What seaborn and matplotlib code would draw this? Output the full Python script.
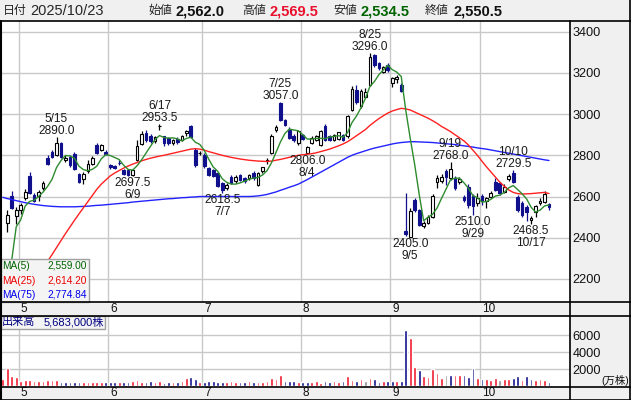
import numpy as np
import pandas as pd
import matplotlib
matplotlib.use("Agg")
import matplotlib.pyplot as plt
from matplotlib.lines import Line2D
from matplotlib.patches import Rectangle
import seaborn as sns

# ---- daily data (price in yen, volume in 万株) ----
dates = ["4/24", "4/25", "4/28", "4/30",
         "5/1", "5/2", "5/7", "5/8", "5/9", "5/12", "5/13", "5/14", "5/15", "5/16",
         "5/19", "5/20", "5/21", "5/22", "5/23", "5/26", "5/27", "5/28", "5/29", "5/30",
         "6/2", "6/3", "6/4", "6/5", "6/6", "6/9", "6/10", "6/11", "6/12", "6/13",
         "6/16", "6/17", "6/18", "6/19", "6/20", "6/23", "6/24", "6/25", "6/26", "6/27", "6/30",
         "7/1", "7/2", "7/3", "7/4", "7/7", "7/8", "7/9", "7/10", "7/11", "7/14", "7/15",
         "7/16", "7/17", "7/18", "7/22", "7/23", "7/24", "7/25", "7/28", "7/29", "7/30", "7/31",
         "8/1", "8/4", "8/5", "8/6", "8/7", "8/8", "8/12", "8/13", "8/14", "8/15", "8/18",
         "8/19", "8/20", "8/21", "8/22", "8/25", "8/26", "8/27", "8/28", "8/29",
         "9/1", "9/2", "9/3", "9/4", "9/5", "9/8", "9/9", "9/10", "9/11", "9/12", "9/16",
         "9/17", "9/18", "9/19", "9/22", "9/24", "9/25", "9/26", "9/29", "9/30",
         "10/1", "10/2", "10/3", "10/6", "10/7", "10/8", "10/9", "10/10", "10/14", "10/15",
         "10/16", "10/17", "10/20", "10/21", "10/22", "10/23"]

opens = [2270, 2471, 2601, 2504, 2533, 2594, 2700, 2609, 2601, 2643, 2787, 2816, 2800, 2860,
         2779, 2792, 2808, 2711, 2687, 2722, 2760, 2852, 2828, 2816,
         2751, 2746, 2763, 2730, 2727, 2703, 2776, 2857, 2909, 2892,
         2868, 2940, 2892, 2884, 2859, 2879, 2876, 2906, 2941, 2827, 2811,
         2803, 2738, 2729, 2713, 2664, 2640, 2697, 2673, 2705, 2689, 2689,
         2713, 2657, 2722, 2770, 2811, 2921, 3053, 2972, 2924, 2892, 2859,
         2900, 2811, 2859, 2875, 2851, 2943, 2892, 2875, 2879, 2900, 2895,
         3021, 3115, 3037, 3083, 3142, 3287, 3247, 3206, 3239,
         3153, 3169, 3142, 2434, 2405, 2583, 2534, 2457, 2473, 2502, 2672,
         2677, 2725, 2688, 2688, 2672, 2600, 2648, 2602, 2567,
         2602, 2580, 2599, 2672, 2664, 2623, 2683, 2713, 2600, 2567,
         2550, 2486, 2526, 2567, 2575, 2562]
highs = [2290, 2533, 2625, 2549, 2568, 2635, 2719, 2617, 2630, 2675, 2800, 2828, 2890, 2865,
         2800, 2800, 2816, 2714, 2719, 2776, 2795, 2860, 2857, 2828,
         2760, 2752, 2776, 2735, 2730, 2735, 2873, 2918, 2921, 2905,
         2895, 2953.5, 2895, 2890, 2880, 2890, 2898, 2925, 2949, 2835, 2820,
         2810, 2745, 2735, 2716, 2670, 2665, 2702, 2702, 2710, 2695, 2710,
         2722, 2718, 2745, 2785, 2905, 2945, 3057, 2978, 2935, 2905, 2920,
         2905, 2845, 2895, 2898, 2925, 2950, 2900, 2905, 2915, 2905, 2995,
         3135, 3140, 3120, 3125, 3296, 3290, 3252, 3235, 3250,
         3180, 3190, 3150, 2615, 2542, 2595, 2540, 2480, 2510, 2610, 2705,
         2710, 2735, 2768, 2700, 2695, 2605, 2660, 2610, 2615,
         2610, 2600, 2625, 2690, 2670, 2660, 2710, 2729.5, 2605, 2580,
         2560, 2505, 2560, 2595, 2625, 2569.5]
lows = [2250, 2427, 2541, 2468, 2517, 2585, 2614, 2573, 2578, 2633, 2755, 2787, 2795, 2787,
        2768, 2743, 2727, 2666, 2662, 2714, 2751, 2808, 2820, 2800,
        2735, 2735, 2751, 2705, 2700, 2697.5, 2772, 2849, 2865, 2860,
        2860, 2925, 2845, 2850, 2850, 2855, 2870, 2895, 2885, 2745, 2800,
        2740, 2700, 2695, 2645, 2618.5, 2630, 2660, 2665, 2675, 2665, 2680,
        2680, 2650, 2715, 2760, 2805, 2915, 2965, 2940, 2880, 2865, 2850,
        2875, 2806, 2855, 2870, 2845, 2870, 2870, 2870, 2875, 2870, 2885,
        3015, 3050, 3030, 3080, 3135, 3230, 3215, 3200, 3205,
        3130, 3150, 3105, 2410, 2405, 2525, 2455, 2445, 2465, 2495, 2640,
        2665, 2655, 2680, 2630, 2660, 2575, 2545, 2510, 2555,
        2560, 2545, 2595, 2625, 2605, 2615, 2675, 2665, 2525, 2500,
        2480, 2468.5, 2500, 2560, 2570, 2534.5]
closes = [2285, 2508, 2546, 2533, 2560, 2622, 2619, 2578, 2622, 2666, 2760, 2792, 2862, 2792,
          2789, 2751, 2735, 2670, 2708, 2760, 2787, 2811, 2849, 2805,
          2743, 2738, 2762, 2711, 2703, 2727, 2844, 2905, 2876, 2868,
          2889, 2941, 2859, 2859, 2876, 2863, 2892, 2919, 2889, 2754, 2811,
          2746, 2705, 2700, 2651, 2632, 2656, 2664, 2697, 2681, 2673, 2705,
          2690, 2713, 2741, 2775, 2896, 2937, 2972, 2948, 2883, 2875, 2916,
          2880, 2840, 2883, 2892, 2916, 2875, 2875, 2900, 2911, 2875, 2989,
          3121, 3057, 3110, 3105, 3279, 3239, 3222, 3228, 3215,
          3174, 3180, 3114, 2416, 2531, 2534, 2461, 2470, 2502, 2602, 2688,
          2693, 2693, 2732, 2640, 2685, 2583, 2560, 2554, 2591,
          2580, 2591, 2615, 2632, 2615, 2648, 2700, 2672, 2534, 2510,
          2526, 2498, 2554, 2580.5, 2612, 2550.5]
volumes = [900, 2230, 1290, 1090, 700, 750, 720, 700, 650, 700, 730, 720, 760, 520,
           520, 500, 520, 520, 480, 500, 480, 500, 500, 520,
           520, 500, 500, 520, 520, 600, 780, 520, 520, 600,
           550, 700, 450, 500, 500, 520, 700, 1000, 1100, 900, 520,
           520, 700, 600, 520, 520, 520, 600, 520, 520, 520, 600,
           520, 520, 550, 600, 1000, 900, 1400, 700, 600, 600, 520,
           520, 520, 500, 600, 450, 600, 550, 700, 520, 600, 1200,
           800, 600, 900, 600, 1000, 850, 520,
           650, 650, 650, 600, 650, 6650, 5670, 2330, 1940, 1235, 1080, 2060, 1620,
           1040, 1350, 1350, 1350, 1350, 1350, 1080, 2210, 1040,
           880, 880, 765, 1040, 765, 880, 880, 1040, 1235, 765,
           1235, 880, 765, 880, 765, 568.3]
# bar colour per day: r = up from previous close, b = down, g = unchanged
vol_colors = ("rrrrrrrrrrrrr"
              "bbbbbrrrrrbbbrbbrrrbbrrbbrbrrbbrbbbbbrrrbbrbrrrrrrbbbrbbrrrbbrrbrrbrgrbb"
              "rbbrbbrrbrrrrrgbrrbbbrbrrrgrrbbrbbrrrb")

# moving averages (yen)
ma5_lead = [np.nan, 2150, 2292, 2453]
ma25 = [np.nan] * 8 + [
    2220, 2255, 2285, 2318, 2352, 2386, 2420, 2452, 2484, 2515, 2545, 2575, 2605, 2635, 2660, 2680,
    2700, 2714, 2726, 2738, 2748, 2757, 2765, 2773, 2780, 2786, 2791, 2796, 2800, 2805, 2810,
    2815, 2820, 2825, 2830, 2832, 2830, 2825, 2818, 2812, 2806, 2800, 2795, 2790, 2786, 2782,
    2779, 2776, 2774, 2772, 2771, 2770, 2772, 2776, 2780, 2785, 2790, 2795, 2800, 2803, 2805,
    2808, 2812, 2818, 2824, 2830, 2838, 2846, 2855, 2866, 2880, 2895, 2910, 2925, 2945, 2962,
    2978, 2992, 3005, 3015, 3022, 3028, 3025, 3020, 3010, 3000, 2990, 2980, 2968, 2955, 2940,
    2928, 2915, 2900, 2885, 2870, 2850, 2825, 2800, 2772, 2745, 2720, 2695, 2670, 2650, 2632,
    2620, 2614, 2612, 2613, 2614, 2616, 2618, 2620, 2614.20]
ma75 = [2596, 2590, 2585, 2580, 2575, 2570, 2566, 2562, 2559, 2556, 2554, 2552, 2551, 2550,
        2550, 2550, 2550, 2551, 2552, 2553, 2555, 2557, 2558, 2560, 2562, 2564, 2566, 2568,
        2570, 2573, 2575, 2577, 2579, 2581, 2583, 2585, 2587, 2589, 2590, 2592, 2594, 2595,
        2597, 2598, 2600, 2600, 2600, 2600, 2600, 2600, 2600, 2600, 2600, 2600, 2600, 2600,
        2601, 2603, 2606, 2610, 2616, 2622, 2630, 2637, 2645, 2652, 2660, 2671, 2682, 2694,
        2706, 2718, 2730, 2742, 2754, 2766, 2778, 2790, 2800, 2808, 2815, 2822, 2829, 2835,
        2840, 2845, 2850, 2855, 2859, 2862, 2864, 2866, 2866, 2865, 2864, 2863, 2862, 2860,
        2858, 2856, 2854, 2852, 2849, 2846, 2843, 2840, 2836, 2833, 2830, 2826, 2822, 2818,
        2814, 2810, 2806, 2802, 2798, 2794, 2790, 2786, 2782, 2778, 2774.84]

# labelled extremes: (date, kind)
marks = [("5/15", "high"), ("6/17", "high"), ("6/9", "low"), ("7/7", "low"),
         ("7/25", "high"), ("8/4", "low"), ("8/25", "high"), ("9/5", "low"),
         ("9/19", "high"), ("9/29", "low"), ("10/10", "high"), ("10/17", "low")]

header_date = "2025/10/23"

# ---- frame ----
sns.set_style("white")
plt.rcParams["font.family"] = ["Liberation Sans", "Noto Sans CJK JP"]

W, H = 631, 400
fig = plt.figure(figsize=(W / 100, H / 100), dpi=100)
fig.patch.set_facecolor("#f0f0f0")


def rect(x0, y0, x1, y1):
    return [x0 / W, 1 - y1 / H, (x1 - x0) / W, (y1 - y0) / H]


def fx(px):
    return px / W


def fy(py):
    return 1 - py / H


n = len(dates)
idx = np.arange(n)
o = np.array(opens, float)
h = np.array(highs, float)
lo = np.array(lows, float)
c = np.array(closes, float)

X_LEFT, X_RIGHT = -0.40, 126.69
ax = fig.add_axes(rect(1, 21, 570, 302))
axv = fig.add_axes(rect(1, 316, 570, 387))
for a in (ax, axv):
    a.set_facecolor("white")
    a.set_xlim(X_LEFT, X_RIGHT)
    for s in a.spines.values():
        s.set_visible(False)
    a.tick_params(axis="x", length=0, labelbottom=False)
ax.set_ylim(2087.9, 3451.9)
axv.set_ylim(-60, 8294)

# month boundaries
months = [d.split("/")[0] for d in dates]
month_starts = [(i, months[i]) for i in range(1, n) if months[i] != months[i - 1]]
grid_c = "#c8c8c8"
for a in (ax, axv):
    for i, _ in month_starts:
        a.axvline(i - 0.45, color=grid_c, lw=1.0, zorder=0)
for p in range(2200, 3401, 200):
    ax.axhline(p, color=grid_c, lw=1.0, zorder=0)
for v in (2000, 4000, 6000):
    axv.axhline(v, color=grid_c, lw=1.0, zorder=0)

# price axis on the right
ax.yaxis.tick_right()
ax.set_yticks(range(2200, 3401, 200))
ax.tick_params(axis="y", length=0, pad=2, labelsize=9.2, labelcolor="#111111")
axv.yaxis.tick_right()
axv.set_yticks([2000, 4000, 6000])
axv.tick_params(axis="y", length=0, pad=2, labelsize=9.2, labelcolor="#111111")
fig.text(fx(601), fy(381), "(万株)", fontsize=7.5, va="center", ha="left", color="#111111")

# ---- candles ----
BLUE = "#10108c"
is_down = c < o
wick_cols = [BLUE if d else "black" for d in is_down]
ax.vlines(idx, lo, h, colors=wick_cols, lw=0.9, zorder=2)
body_lo = np.minimum(o, c)
body_h = np.abs(c - o)
face = [BLUE if d else "white" for d in is_down]
edge = [BLUE if d else "black" for d in is_down]
ax.bar(idx, body_h, bottom=body_lo, width=0.6, color=face, edgecolor=edge,
       linewidth=0.8, zorder=3)

# ---- moving averages ----
ma5 = pd.Series(c).rolling(5).mean().to_numpy()
ma5[:4] = ma5_lead
ma_df = pd.DataFrame({"i": idx, "ma5": ma5, "ma25": ma25, "ma75": ma75})
for col, colr in (("ma75", "#2222ff"), ("ma25", "#ff2020"), ("ma5", "#2e8b2e")):
    sns.lineplot(data=ma_df.dropna(subset=[col]), x="i", y=col, ax=ax, color=colr,
                 lw=1.0, estimator=None, legend=False, zorder=4)
ax.set_xlabel("")
ax.set_ylabel("")
ax.set_xlim(X_LEFT, X_RIGHT)
ax.set_ylim(2087.9, 3451.9)

# ---- high / low annotations ----
for d, kind in marks:
    i = dates.index(d)
    if kind == "high":
        val = h[i]
        ax.annotate(f"{val:.1f}", (i, val), xytext=(0, 6 * 0.72), textcoords="offset points",
                    ha="center", va="center", fontsize=8.6, color="#1a1a1a", zorder=6)
        ax.annotate(d, (i, val), xytext=(0, 18 * 0.72), textcoords="offset points",
                    ha="center", va="center", fontsize=8.6, color="#1a1a1a", zorder=6)
    else:
        val = lo[i]
        ax.annotate(f"{val:.1f}", (i, val), xytext=(0, -7 * 0.72), textcoords="offset points",
                    ha="center", va="center", fontsize=8.6, color="#1a1a1a", zorder=6)
        ax.annotate(d, (i, val), xytext=(0, -19 * 0.72), textcoords="offset points",
                    ha="center", va="center", fontsize=8.6, color="#1a1a1a", zorder=6)

# ---- volume ----
cmap = {"r": "#f01a2e", "b": BLUE, "g": "#8c8c8c"}
bar_cols = [cmap[k] for k in vol_colors[:n]]
bar_cols += [cmap["r"]] * (n - len(bar_cols))
axv.bar(idx, volumes[:n], width=0.6, color=bar_cols, zorder=3)
axv.set_ylim(-60, 8294)

# ---- legend boxes ----
fig.add_artist(Rectangle((fx(0.5), fy(302)), fx(88), (302 - 259) / H, transform=fig.transFigure,
                         facecolor="#f4f4f4", edgecolor="#a0a0a0", lw=1.0, zorder=10))
ma_rows = [("MA(5)", ma5[-1], "#006400", 266), ("MA(25)", ma25[-1], "#ee0000", 280.5),
           ("MA(75)", ma75[-1], "#0000ee", 294.5)]
for name, val, colr, yy in ma_rows:
    fig.text(fx(2.5), fy(yy), name, fontsize=7.3, color=colr, va="center", ha="left", zorder=11)
    fig.text(fx(87), fy(yy), f"{val:,.2f}", fontsize=7.3, color=colr, va="center", ha="right",
             zorder=11)

fig.add_artist(Rectangle((fx(0.5), fy(329)), fx(104.5), 13 / H, transform=fig.transFigure,
                         facecolor="#f4f4f4", edgecolor="#a0a0a0", lw=1.0, zorder=10))
fig.text(fx(2), fy(322.5), "出来高", fontsize=8, color="#000080", va="center", ha="left", zorder=11)
fig.text(fx(104), fy(322.5), f"{volumes[-1] * 10000:,.0f}株", fontsize=8, color="#000080",
         va="center", ha="right", zorder=11)

# ---- month labels in both date bands ----
for i, m in month_starts:
    xpx = 2.79 + 4.477 * (i - 0.45) + 2
    for yy in (309, 393.5):
        fig.text(fx(xpx), fy(yy), m, fontsize=8.5, color="#111111", va="center", ha="left")

# ---- header ----
fig.add_artist(Rectangle((0, fy(20.5)), 1, 20.5 / H, transform=fig.transFigure,
                         facecolor="#f0f0f0", edgecolor="none", zorder=0))
hy = fy(11)
fig.text(fx(3), hy, "日付", fontsize=8.6, va="center", ha="left")
fig.text(fx(30), hy, header_date, fontsize=10.5, va="center", ha="left")
items = [("始値", o[-1], "#111111", 148), ("高値", h[-1], "#e8102c", 242),
         ("安値", lo[-1], "#006400", 333), ("終値", c[-1], "#111111", 425)]
for lab, val, colr, xpx in items:
    fig.text(fx(xpx), hy, lab, fontsize=8.6, va="center", ha="left")
    fig.text(fx(xpx + 28), hy, f"{val:,.1f}", fontsize=10.5, fontweight="bold", color=colr,
             va="center", ha="left")


# ---- frame lines ----
def hline(py, x0=0, x1=W, lw=1.2, col="black"):
    fig.add_artist(Line2D([fx(x0), fx(x1)], [fy(py), fy(py)], transform=fig.transFigure,
                          color=col, lw=lw, zorder=12))


def vline(px, y0, y1, lw=1.2, col="black"):
    fig.add_artist(Line2D([fx(px), fx(px)], [fy(y0), fy(y1)], transform=fig.transFigure,
                          color=col, lw=lw, zorder=12))


hline(21)
hline(302)
hline(315.5)
hline(387)
hline(399.5)
vline(570, 21, 400)
vline(0.5, 21, 400, lw=1.5)
vline(630, 0, 400, lw=1.2)

fig.savefig("out.png", dpi=100, facecolor=fig.get_facecolor())
